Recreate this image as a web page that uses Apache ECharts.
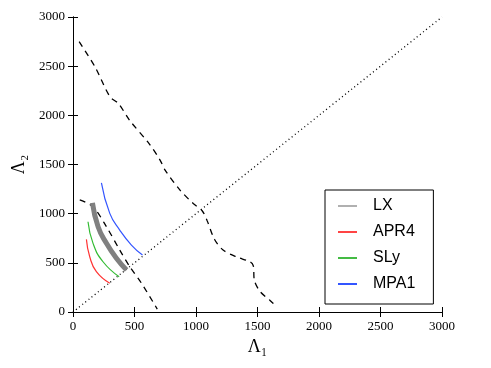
<!DOCTYPE html>
<html>
<head>
<meta charset="utf-8">
<script src="https://cdn.jsdelivr.net/npm/echarts@6/dist/echarts.min.js"></script>
<style>
  html, body { margin: 0; padding: 0; background: #fff; }
  #chart { width: 491px; height: 368px; }
</style>
</head>
<body>
<div id="chart"></div>
<script>
// tick values
var ticks = [0, 500, 1000, 1500, 2000, 2500, 3000]

// bounds (dashed)
var upperBound = [[50, 2750], [180, 2490], [300, 2190], [370, 2120], [460, 1950], [620, 1710], [710, 1540],
  [750, 1440], [870, 1240], [980, 1100], [1050, 1030], [1090, 930], [1150, 740], [1220, 630],
  [1330, 560], [1440, 510], [1466, 470], [1475, 320], [1520, 210], [1600, 120], [1660, 50]]
var lowerBound = [[55, 1140], [163, 1070], [272, 867], [380, 630], [462, 460], [557, 292], [685, 30]]
var diagonal = [[0, 0], [3000, 3000]]

// EOS curves
var lx = [[158, 1110], [204, 867], [272, 698], [353, 546], [435, 427]]
var apr4 = [[109, 739], [136, 562], [190, 410], [299, 292]]
var sly = [[122, 918], [163, 698], [244, 511], [375, 359]]
var mpa1 = [[231, 1314], [299, 1003], [380, 833], [475, 681], [565, 579]]

var chart = echarts.init(document.getElementById('chart'))

var serif = 'Liberation Serif'
var tickLabel = {
  fontFamily: serif, fontSize: 13, color: '#000',
  formatter: function (v) { return ticks.indexOf(v) >= 0 ? String(v) : '' }
}

function dashed (data, type) {
  return {
    type: 'line', data: data, symbol: 'none', smooth: 0.3, silent: true,
    lineStyle: { color: '#000', width: 1.3, type: type }
  }
}
function curve (name, data, color, width) {
  return {
    name: name, type: 'line', data: data, symbol: 'none', smooth: true,
    lineStyle: { color: color, width: width }, itemStyle: { color: color }
  }
}

chart.setOption({
  animation: false,
  grid: { left: 73, top: 17, right: 49, bottom: 56, outerBoundsMode: 'none' },
  xAxis: [
    {
      type: 'value', min: 0, max: 3000, interval: 500,
      name: 'Λ₁', nameLocation: 'middle', nameGap: 23,
      nameTextStyle: { fontFamily: serif, fontSize: 18, color: '#000' },
      axisLine: { lineStyle: { color: '#000' } },
      axisTick: { inside: true, length: 5, lineStyle: { color: '#000' } },
      axisLabel: tickLabel, splitLine: { show: false }
    },
    {
      type: 'value', min: 0, max: 3000, interval: 500, position: 'top',
      axisLine: { lineStyle: { color: '#000' } },
      axisTick: { inside: true, length: 5, lineStyle: { color: '#000' } },
      axisLabel: { show: false }, splitLine: { show: false }
    }
  ],
  yAxis: [
    {
      type: 'value', min: 0, max: 3000, interval: 500,
      name: 'Λ₂', nameLocation: 'middle', nameGap: 42,
      nameTextStyle: { fontFamily: serif, fontSize: 18, color: '#000' },
      axisLine: { show: true, lineStyle: { color: '#000' } },
      axisTick: { show: true, inside: true, length: 5, lineStyle: { color: '#000' } },
      axisLabel: tickLabel, splitLine: { show: false }
    },
    {
      type: 'value', min: 0, max: 3000, interval: 500, position: 'right',
      axisLine: { show: true, lineStyle: { color: '#000' } },
      axisTick: { show: true, inside: true, length: 5, lineStyle: { color: '#000' } },
      axisLabel: { show: false }, splitLine: { show: false }
    }
  ],
  legend: {
    orient: 'vertical', left: 325, top: 190,
    backgroundColor: '#fff', borderColor: '#000', borderWidth: 1, borderRadius: 0,
    padding: [8, 18, 12, 13], itemGap: 10, itemWidth: 19, itemHeight: 2,
    icon: 'rect',
    textStyle: { fontFamily: 'Liberation Sans', fontSize: 16, color: '#000', padding: [0, 0, 0, 11] },
    data: [
      { name: 'LX', itemStyle: { color: '#b0b0b0' } },
      { name: 'APR4', itemStyle: { color: '#ff4444' } },
      { name: 'SLy', itemStyle: { color: '#44bb44' } },
      { name: 'MPA1', itemStyle: { color: '#3355ff' } }
    ]
  },
  series: [
    dashed(diagonal, [1, 3]),
    dashed(upperBound, [6, 5]),
    dashed(lowerBound, [6, 5]),
    curve('LX', lx, '#808080', 5),
    curve('APR4', apr4, '#ff3333', 1.2),
    curve('SLy', sly, '#33bb33', 1.2),
    curve('MPA1', mpa1, '#3355ff', 1.2)
  ]
})
</script>
</body>
</html>
